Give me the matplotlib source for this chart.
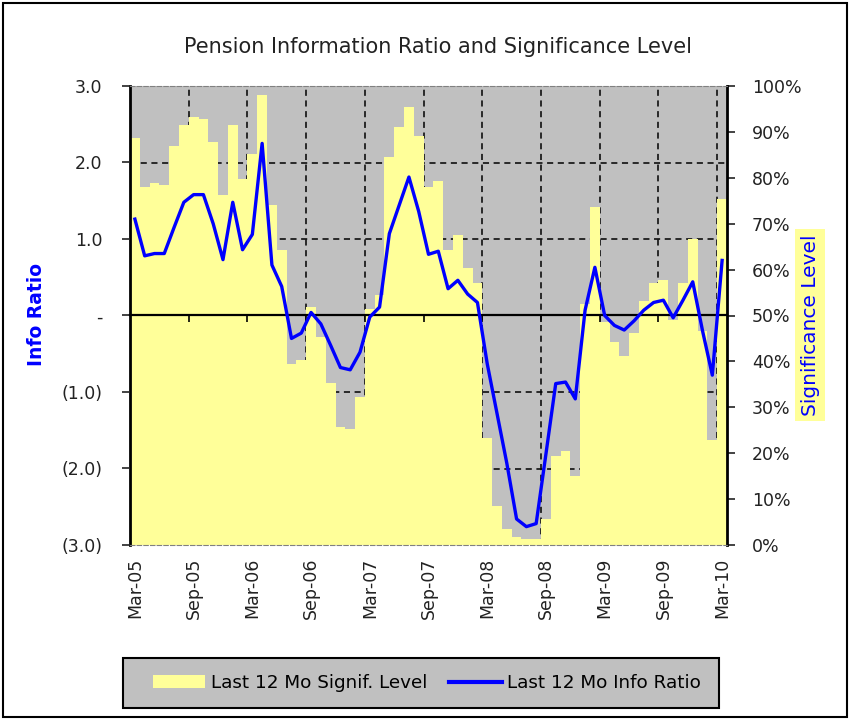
import numpy as np
import matplotlib
matplotlib.use("Agg")
import matplotlib.pyplot as plt
from matplotlib.ticker import FixedLocator, FixedFormatter, FuncFormatter, MultipleLocator, NullFormatter
from matplotlib.lines import Line2D
from matplotlib.patches import Patch, Rectangle

# last 12 month significance level (%), monthly Mar-05 .. Mar-10
signif = [88.6, 77.9, 78.8, 78.4, 86.9, 91.6, 93.2, 92.8, 87.8, 76.2,
          91.6, 79.7, 85.2, 98.0, 74.0, 64.2, 39.5, 40.2, 51.8, 45.4,
          35.2, 25.7, 25.3, 32.2, 51.5, 54.4, 84.6, 91.1, 95.4, 89.0,
          77.9, 79.2, 64.2, 67.6, 60.3, 57.1, 23.3, 8.6, 3.4, 1.8,
          1.3, 1.3, 5.6, 19.3, 20.5, 15.1, 52.6, 73.7, 48.5, 44.2,
          41.1, 46.2, 53.1, 57.0, 57.8, 49.0, 57.0, 66.7, 46.7, 22.8, 75.3]

# last 12 month info ratio
info_ratio = [1.26, 0.78, 0.81, 0.81, 1.15, 1.48, 1.58, 1.58, 1.20, 0.73,
              1.48, 0.86, 1.06, 2.25, 0.66, 0.38, -0.30, -0.23, 0.04, -0.11,
              -0.39, -0.68, -0.71, -0.48, -0.02, 0.11, 1.07, 1.44, 1.81, 1.36,
              0.80, 0.84, 0.35, 0.46, 0.28, 0.17, -0.63, -1.28, -1.93, -2.66,
              -2.76, -2.72, -1.81, -0.89, -0.87, -1.09, 0.07, 0.63, 0.00, -0.13,
              -0.19, -0.07, 0.07, 0.17, 0.20, -0.03, 0.20, 0.44, -0.20, -0.78, 0.72]

tick_labels = ['Mar-05', 'Sep-05', 'Mar-06', 'Sep-06', 'Mar-07', 'Sep-07',
               'Mar-08', 'Sep-08', 'Mar-09', 'Sep-09', 'Mar-10']

GRAY = '#C0C0C0'
YELLOW = '#FFFF99'
BLUE = '#0000FF'
FS = 12.5

plt.rcParams['font.family'] = ['DejaVu Sans']

x = np.arange(len(signif))

fig = plt.figure(figsize=(8.5, 7.2), dpi=100)
ax = fig.add_axes([130 / 850, 1 - 545 / 720, 597 / 850, 459 / 720])
ax2 = ax.twinx()

# bars / significance axis (right)
ax.set_facecolor(GRAY)
ax.bar(x, signif, width=1.0, color=YELLOW, edgecolor='none', zorder=2)
ax.set_xlim(-0.5, len(x) - 0.5)
ax.set_ylim(0, 100)
ax.yaxis.tick_right()
ax.yaxis.set_major_locator(MultipleLocator(10))
ax.yaxis.set_major_formatter(FuncFormatter(lambda v, p: f'{v:.0f}%'))
ax.yaxis.set_minor_locator(MultipleLocator(100 / 6))
ax.set_axisbelow(True)
ax.grid(which='minor', axis='y', color='black', ls=(0, (4, 3)), lw=1.1)
ax.grid(which='major', axis='x', color='black', ls=(0, (4, 3)), lw=1.1)
ax.tick_params(axis='y', which='minor', length=0)
ax.tick_params(axis='y', which='major', direction='out', length=6, width=1.2,
               pad=12, labelsize=FS, colors='#222222')

ax.xaxis.set_major_locator(FixedLocator(np.arange(5.5, len(x) - 1, 6)))
ax.xaxis.set_major_formatter(NullFormatter())
ax.xaxis.set_minor_locator(FixedLocator(x[::6]))
ax.xaxis.set_minor_formatter(FixedFormatter(tick_labels))
ax.tick_params(axis='x', which='both', length=0)
ax.tick_params(axis='x', which='minor', labelrotation=90, pad=9,
               labelsize=FS, colors='#222222')

for s in ['top', 'bottom']:
    ax.spines[s].set_color('#808080')
    ax.spines[s].set_linestyle((0, (4, 2)))
for s in ['left', 'right']:
    ax.spines[s].set_color('black')
    ax.spines[s].set_linewidth(2)

# line / info ratio axis (left)
ax2.xaxis.set_visible(True)
ax2.yaxis.tick_left()
ax2.plot(x, info_ratio, color=BLUE, lw=2.4, zorder=3)
ax2.set_ylim(-3, 3)
ax2.yaxis.set_major_locator(MultipleLocator(1))


def ratio_fmt(v, p):
    if abs(v) < 1e-9:
        return '-'
    if v < 0:
        return f'({abs(v):.1f})'
    return f'{v:.1f}'


ax2.yaxis.set_major_formatter(FuncFormatter(ratio_fmt))
ax2.tick_params(axis='y', direction='out', length=6, width=1.2, pad=14,
                labelsize=FS, colors='#222222')
ax2.spines['bottom'].set_position(('data', 0))
ax2.spines['bottom'].set_linewidth(1.6)
ax2.spines['bottom'].set_color('black')
for s in ['top', 'left', 'right']:
    ax2.spines[s].set_visible(False)
ax2.tick_params(axis='x', which='major', direction='out', length=5, width=1.2,
                labelbottom=False)
ax2.tick_params(axis='x', which='minor', length=0, labelbottom=False)

# labels
fig.text(438 / 850, 1 - 47 / 720, 'Pension Information Ratio and Significance Level',
         ha='center', va='center', fontsize=15, color='#222222')
fig.text(37 / 850, 1 - 315 / 720, 'Info Ratio', rotation=90, ha='center',
         va='center', fontsize=13.5, color=BLUE, fontweight='bold')
fig.text(810 / 850, 1 - 325 / 720, 'Significance Level', rotation=90, ha='center',
         va='center', fontsize=14.5, color=BLUE,
         bbox=dict(fc=YELLOW, ec='none', pad=4))

# legend box and entries
fig.add_artist(Rectangle((123 / 850, 1 - 708 / 720), 596 / 850, 50 / 720,
                         transform=fig.transFigure, fc=GRAY, ec='black', lw=1.5))
handles = [Patch(fc=YELLOW, ec='none'), Line2D([], [], color=BLUE, lw=3)]
leg = fig.legend(handles, ['Last 12 Mo Signif. Level', 'Last 12 Mo Info Ratio'],
                 loc='center', bbox_to_anchor=(427 / 850, 1 - 683 / 720),
                 ncol=2, frameon=False, fontsize=13.2, handlelength=2.85,
                 handletextpad=0.3, columnspacing=1.2)

fig.add_artist(Rectangle((0.004, 0.004), 0.992, 0.992, transform=fig.transFigure,
                         fill=False, ec='black', lw=1.5))

fig.savefig('out.png', dpi=100)
